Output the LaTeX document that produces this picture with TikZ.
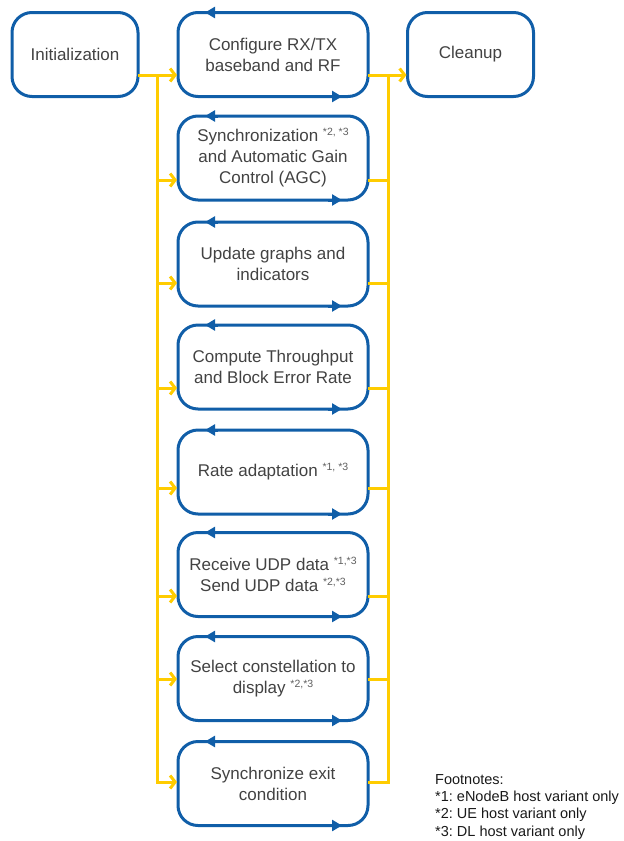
\documentclass[tikz,border=0pt]{standalone}
\usepackage{fontspec}
\setmainfont{Liberation Sans}
\usetikzlibrary{arrows.meta}
\definecolor{ctblue}{RGB}{16,94,168}
\definecolor{ctyellow}{RGB}{255,204,0}
\definecolor{ctgray}{RGB}{66,66,66}
\definecolor{supgray}{RGB}{95,95,95}
\newcommand{\fnref}[1]{\raisebox{6pt}{\fontsize{10.5}{10.5}\selectfont\color{supgray}#1}}
\tikzset{
  stepbox/.style={draw=ctblue, line width=3pt, rounded corners=20pt,
    minimum width=190pt, minimum height=84pt, align=center, outer sep=0pt,
    text=ctgray, font=\fontsize{17}{21}\selectfont, inner sep=2pt},
  endbox/.style={stepbox, minimum width=126pt},
  loopmark/.style={draw=ctblue, line width=3pt, -{Triangle[length=10pt,width=11pt]}},
  flow/.style={draw=ctyellow, line width=3pt},
  flowarr/.style={flow, -{Straight Barb[length=5pt,width=13pt]}, shorten >=1pt},
}
\begin{document}
\frenchspacing
\begin{tikzpicture}[x=1pt,y=-1pt]
\useasboundingbox (0,0) rectangle (624,841);
% boxes
\node[endbox] (init) at (75,54.5) {Initialization};
\node[endbox] (clean) at (470.5,54.5) {Cleanup};
\node[stepbox] (b1) at (273,54.5) {Configure RX/TX\\baseband and RF};
\node[stepbox] (b2) at (273,158) {Synchronization \fnref{*2, *3}\\and Automatic Gain\\Control (AGC)};
\node[stepbox] (b3) at (273,264) {Update graphs and\\indicators};
\node[stepbox] (b4) at (273,367) {Compute Throughput\\and Block Error Rate};
\node[stepbox] (b5) at (273,472) {Rate adaptation \fnref{*1, *3}};
\node[stepbox] (b6) at (273,574.5) {Receive UDP data \fnref{*1,*3}\\Send UDP data \fnref{*2,*3}};
\node[stepbox] (b7) at (273,678.5) {Select constellation to\\display \fnref{*2,*3}};
\node[stepbox] (b8) at (273,783.5) {Synchronize exit\\condition};
% loop arrowheads on each step box
\foreach \b in {b1,b2,b3,b4,b5,b6,b7,b8}{
  \draw[loopmark] ([xshift=40pt]\b.north west) -- ([xshift=27pt]\b.north west);
  \draw[loopmark] ([xshift=-40pt]\b.south east) -- ([xshift=-26pt]\b.south east);
}
% bus levels
\coordinate (y1) at (0,75);
\coordinate (y2) at (0,180);
\coordinate (y3) at (0,283);
\coordinate (y4) at (0,388);
\coordinate (y5) at (0,488);
\coordinate (y6) at (0,596);
\coordinate (y7) at (0,679);
\coordinate (y8) at (0,782);
\coordinate (lx) at (157,0);
\coordinate (rx) at (388,0);
% left bus
\draw[flowarr] (init.east |- y1) -- (b1.west |- y1);
\draw[flowarr] (lx |- y1) -- (lx |- y8) -- (b8.west |- y8);
\foreach \i in {2,...,7}{
  \draw[flowarr] (lx |- y\i) -- (b\i.west |- y\i);
}
% right bus
\foreach \i in {2,...,7}{
  \draw[flow] (b\i.east |- y\i) -- (rx |- y\i);
}
\draw[flow] (b8.east |- y8) -- (rx |- y8) -- (rx |- y1);
\draw[flowarr] (b1.east |- y1) -- (clean.west |- y1);
% footnotes
\node[anchor=north west, align=left, inner sep=0pt, text=black!90,
  font=\fontsize{14.5}{17.4}\selectfont\frenchspacing] (fn) at (435,774)
  {Footnotes:\\{}*1: eNodeB host variant only\\{}*2: UE host variant only\\{}*3: DL host variant only};
\end{tikzpicture}
\end{document}
